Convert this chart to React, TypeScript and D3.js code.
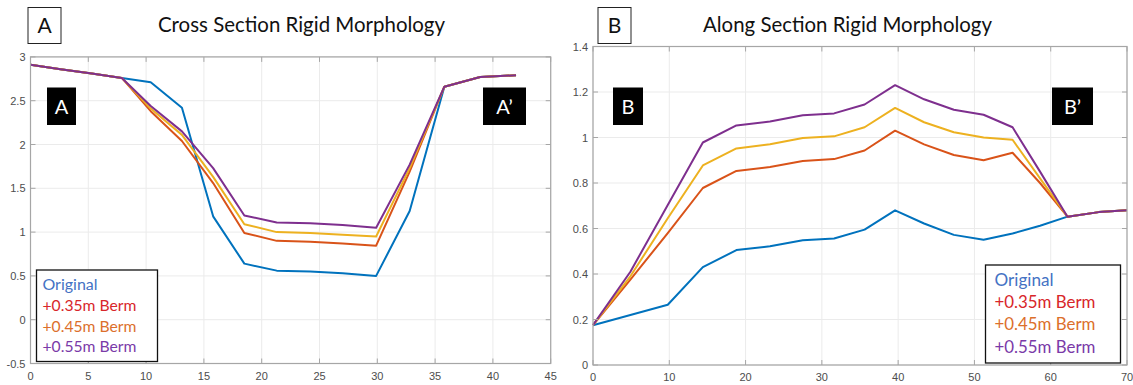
import React, { useEffect, useRef } from 'react';
import * as d3 from 'd3';

// panel A: cross section
const crossX = [0, 2.6, 5.3, 7.9, 10.4, 13.1, 15.8, 18.5, 21.3, 24.2, 27.0, 29.9, 32.8, 35.8, 38.9, 42.0];
const crossOriginal = [2.91, 2.86, 2.81, 2.76, 2.71, 2.42, 1.18, 0.64, 0.56, 0.55, 0.53, 0.5, 1.24, 2.66, 2.77, 2.79];
const cross035 = [2.91, 2.86, 2.81, 2.76, 2.38, 2.04, 1.56, 0.99, 0.9, 0.89, 0.87, 0.845, 1.69, 2.66, 2.77, 2.79];
const cross045 = [2.91, 2.86, 2.81, 2.76, 2.41, 2.11, 1.63, 1.09, 1.0, 0.99, 0.97, 0.95, 1.73, 2.66, 2.77, 2.79];
const cross055 = [2.91, 2.86, 2.81, 2.76, 2.44, 2.15, 1.73, 1.19, 1.11, 1.1, 1.08, 1.05, 1.77, 2.66, 2.77, 2.79];
const crossXTicks = [0, 5, 10, 15, 20, 25, 30, 35, 40, 45];
const crossYTicks = [-0.5, 0, 0.5, 1, 1.5, 2, 2.5, 3];

// panel B: along section
const alongX = [0, 4.9, 9.8, 14.4, 18.8, 23.2, 27.5, 31.6, 35.6, 39.6, 43.4, 47.3, 51.2, 55.0, 58.6, 62.2, 66.3, 70];
const alongOriginal = [0.175, 0.22, 0.265, 0.43, 0.505, 0.522, 0.548, 0.556, 0.595, 0.68, 0.622, 0.572, 0.551, 0.578, 0.612, 0.652, 0.672, 0.68];
const along035 = [0.175, 0.375, 0.58, 0.778, 0.853, 0.87, 0.897, 0.905, 0.943, 1.03, 0.97, 0.923, 0.9, 0.933, 0.8, 0.652, 0.672, 0.68];
const along045 = [0.175, 0.39, 0.645, 0.877, 0.952, 0.97, 0.998, 1.005, 1.045, 1.13, 1.067, 1.023, 1.0, 0.99, 0.82, 0.652, 0.672, 0.68];
const along055 = [0.175, 0.41, 0.703, 0.978, 1.053, 1.07, 1.098, 1.106, 1.145, 1.23, 1.168, 1.122, 1.1, 1.045, 0.85, 0.652, 0.672, 0.68];
const alongXTicks = [0, 10, 20, 30, 40, 50, 60, 70];
const alongYTicks = [0, 0.2, 0.4, 0.6, 0.8, 1, 1.2, 1.4];

const legendLabels = ['Original', '+0.35m Berm', '+0.45m Berm', '+0.55m Berm'];
const lineColors = ['#0072bd', '#d95319', '#edb120', '#7e2f8e'];
const legendColors = ['#4472c4', '#d8262a', '#dc6f2c', '#7a3aa8'];

const UI_FONT = 'Lato, "Open Sans", sans-serif';
const TICK_FONT = '"Liberation Sans", Arial, sans-serif';

function drawPanel(svg, p) {
  const g = svg.append('g');
  const x = d3.scaleLinear().domain(p.xDomain).range([p.left, p.right]);
  const y = d3.scaleLinear().domain(p.yDomain).range([p.bottom, p.top]);

  // grid
  g.selectAll('.gx').data(p.xTicks).join('line')
    .attr('x1', d => x(d)).attr('x2', d => x(d))
    .attr('y1', p.top).attr('y2', p.bottom)
    .attr('stroke', '#ebebeb').attr('stroke-width', 1);
  g.selectAll('.gy').data(p.yTicks).join('line')
    .attr('y1', d => y(d)).attr('y2', d => y(d))
    .attr('x1', p.left).attr('x2', p.right)
    .attr('stroke', '#ebebeb').attr('stroke-width', 1);

  // lines
  const line = d3.line().x(d => x(d[0])).y(d => y(d[1]));
  p.series.forEach((s, i) => {
    g.append('path')
      .datum(p.xs.map((v, j) => [v, s[j]]))
      .attr('fill', 'none')
      .attr('stroke', lineColors[i])
      .attr('stroke-width', 2)
      .attr('stroke-linejoin', 'round')
      .attr('d', line);
  });

  // frame + inner ticks on all sides
  g.append('rect')
    .attr('x', p.left).attr('y', p.top)
    .attr('width', p.right - p.left).attr('height', p.bottom - p.top)
    .attr('fill', 'none').attr('stroke', '#a6a6a6').attr('stroke-width', 1.2);
  const tl = 5;
  p.xTicks.forEach(t => {
    g.append('line').attr('x1', x(t)).attr('x2', x(t)).attr('y1', p.bottom).attr('y2', p.bottom - tl).attr('stroke', '#a6a6a6');
    g.append('line').attr('x1', x(t)).attr('x2', x(t)).attr('y1', p.top).attr('y2', p.top + tl).attr('stroke', '#a6a6a6');
  });
  p.yTicks.forEach(t => {
    g.append('line').attr('y1', y(t)).attr('y2', y(t)).attr('x1', p.left).attr('x2', p.left + tl).attr('stroke', '#a6a6a6');
    g.append('line').attr('y1', y(t)).attr('y2', y(t)).attr('x1', p.right).attr('x2', p.right - tl).attr('stroke', '#a6a6a6');
  });

  // tick labels
  g.selectAll('.tx').data(p.xTicks).join('text')
    .attr('x', d => x(d)).attr('y', p.bottom + 16)
    .attr('text-anchor', 'middle')
    .attr('font-family', TICK_FONT).attr('font-size', 11).attr('fill', '#4d4d4d')
    .text(d => String(d));
  g.selectAll('.ty').data(p.yTicks).join('text')
    .attr('x', p.left - 5).attr('y', d => y(d) + 4)
    .attr('text-anchor', 'end')
    .attr('font-family', TICK_FONT).attr('font-size', 11).attr('fill', '#4d4d4d')
    .text(d => String(d));

  // panel letter box
  g.append('rect')
    .attr('x', p.tag.x).attr('y', 7.5).attr('width', 33).attr('height', 36)
    .attr('fill', '#fff').attr('stroke', '#222').attr('stroke-width', 1);
  g.append('text')
    .attr('x', p.tag.x + 16.5).attr('y', 33)
    .attr('text-anchor', 'middle')
    .attr('font-family', UI_FONT).attr('font-size', 21).attr('fill', '#111')
    .text(p.tag.label);

  // title
  g.append('text')
    .attr('x', p.title.x).attr('y', 32)
    .attr('textLength', p.title.w).attr('lengthAdjust', 'spacingAndGlyphs')
    .attr('font-family', UI_FONT).attr('font-size', 22).attr('fill', '#111')
    .text(p.title.text);

  // black end markers
  p.marks.forEach(m => {
    g.append('rect')
      .attr('x', m.x).attr('y', 87.5).attr('width', m.w).attr('height', 37.5)
      .attr('fill', '#000');
    g.append('text')
      .attr('x', m.x + m.w / 2).attr('y', 113.5)
      .attr('text-anchor', 'middle')
      .attr('font-family', UI_FONT).attr('font-size', 20).attr('fill', '#fff')
      .text(m.label);
  });

  // legend
  const L = p.legend;
  g.append('rect')
    .attr('x', L.x).attr('y', L.y).attr('width', L.w).attr('height', L.h)
    .attr('fill', '#fff').attr('stroke', '#111').attr('stroke-width', 1.3);
  legendLabels.forEach((lab, i) => {
    g.append('text')
      .attr('x', L.tx).attr('y', L.baselines[i])
      .attr('font-family', UI_FONT).attr('font-size', L.fs)
      .attr('fill', legendColors[i])
      .attr('textLength', i > 0 ? L.bermW : L.origW)
      .attr('lengthAdjust', 'spacingAndGlyphs')
      .text(lab);
  });
}

export default function App() {
  const svgRef = useRef(null);

  useEffect(() => {
    const svg = d3.select(svgRef.current);
    svg.selectAll('*').remove();

    svg.append('rect').attr('width', 1133).attr('height', 385).attr('fill', '#fff');

    drawPanel(svg, {
      left: 30.5, right: 550.7, top: 56.9, bottom: 363.5,
      xDomain: [0, 45], yDomain: [-0.5, 3],
      xTicks: crossXTicks, yTicks: crossYTicks,
      xs: crossX,
      series: [crossOriginal, cross035, cross045, cross055],
      tag: { x: 28, label: 'A' },
      title: { x: 158, w: 287, text: 'Cross Section Rigid Morphology' },
      marks: [{ x: 47, w: 29, label: 'A' }, { x: 483, w: 43, label: 'A\u2019' }],
      legend: { x: 36.5, y: 270, w: 121, h: 91.5, tx: 42.5, fs: 15.5, origW: 55, bermW: 94, baselines: [290, 310.7, 331.7, 352.3] },
    });

    drawPanel(svg, {
      left: 593, right: 1127, top: 46.5, bottom: 365,
      xDomain: [0, 70], yDomain: [0, 1.4],
      xTicks: alongXTicks, yTicks: alongYTicks,
      xs: alongX,
      series: [alongOriginal, along035, along045, along055],
      tag: { x: 598, label: 'B' },
      title: { x: 703, w: 289, text: 'Along Section Rigid Morphology' },
      marks: [{ x: 613, w: 30, label: 'B' }, { x: 1052, w: 41, label: 'B\u2019' }],
      legend: { x: 985.5, y: 265, w: 135, h: 98, tx: 994.5, fs: 16.5, origW: 59, bermW: 101, baselines: [286, 308.3, 330, 352.5] },
    });
  }, []);

  return (
    <svg
      ref={svgRef}
      width={1133}
      height={385}
      style={{ position: 'absolute', left: 0, top: 0, display: 'block' }}
    />
  );
}
